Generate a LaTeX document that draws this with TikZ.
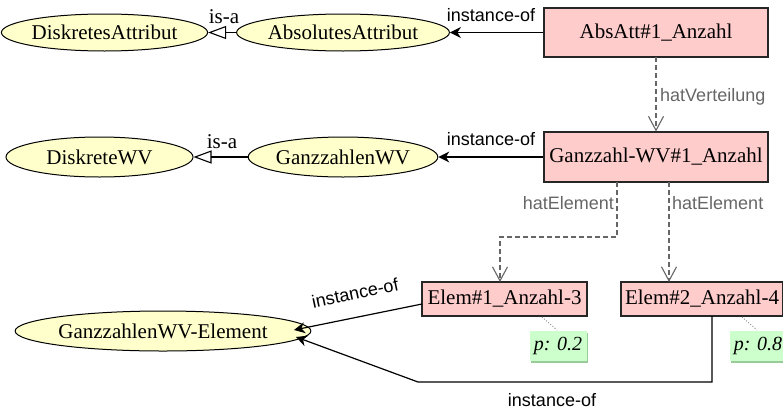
\documentclass[tikz,border=0pt]{standalone}
\usepackage{fontspec}
\setmainfont{Liberation Serif}
\setsansfont{Liberation Sans}
\usetikzlibrary{arrows.meta,shapes.geometric,shadows}
\definecolor{classfill}{HTML}{FFFFCC}
\definecolor{instfill}{HTML}{FFCCCC}
\definecolor{notefill}{HTML}{CCFFCC}
\definecolor{noteshade}{HTML}{99CC99}
\definecolor{relgray}{HTML}{666666}
\begin{document}
\begin{tikzpicture}[x=1pt,y=-1pt,
  cls/.style={ellipse,draw=black,fill=classfill,line width=1pt,inner sep=0pt,
    font=\fontsize{21}{24}\selectfont},
  inst/.style={rectangle,draw=black!85,fill=instfill,line width=1.1pt,inner sep=0pt,
    font=\fontsize{21}{24}\selectfont},
  note/.style={rectangle,fill=notefill,inner sep=0pt,minimum width=57,minimum height=30,
    font=\itshape\fontsize{20}{23}\selectfont,
    general shadow={fill=noteshade,shadow xshift=1.8pt,shadow yshift=-1.8pt}},
  lbl/.style={font=\sffamily\fontsize{18}{21}\selectfont,inner sep=1pt},
  glbl/.style={lbl,text=relgray},
  isalbl/.style={font=\fontsize{21}{24}\selectfont,inner sep=1pt},
  instof/.style={line width=1.2pt,-{Stealth[length=11pt,width=11pt,inset=3.5pt]}},
  isa/.style={line width=1.1pt,-{Triangle[open,length=18pt,width=13pt]}},
  rel/.style={draw=relgray,line width=1.1pt,dash pattern=on 5pt off 3pt,
    -{Straight Barb[length=14pt,width=15pt,line width=1.1pt]}},
  attach/.style={draw=relgray,line width=0.8pt,dotted}
]
\useasboundingbox (0,0) rectangle (783,410);

% class ellipses
\node[cls,minimum width=185,minimum height=37] (da) at (104.5,32.5) {DiskretesAttribut};
\node[cls,minimum width=186,minimum height=37] (aa) at (343,32.5) {AbsolutesAttribut};
\node[cls,minimum width=187,minimum height=40] (dwv) at (99.5,157) {DiskreteWV};
\node[cls,minimum width=186,minimum height=40] (gwv) at (343,157) {GanzzahlenWV};
\node[cls,minimum width=260,minimum height=40] (gwe) at (163,331) {GanzzahlenWV-Element};

% instances
\node[inst,minimum width=224,minimum height=49] (abs) at (656,32.5) {AbsAtt\#1\_Anzahl};
\node[inst,minimum width=224,minimum height=50] (gzv) at (656,157) {Ganzzahl-WV\#1\_Anzahl};
\node[inst,minimum width=165,minimum height=34] (e1) at (504.5,299) {Elem\#1\_Anzahl-3};
\node[inst,minimum width=162,minimum height=34] (e2) at (702,299) {Elem\#2\_Anzahl-4};

% probability notes
\node[note] (n1) at (558,346) {p: 0.2};
\node[note] (n2) at (758,346) {p: 0.8};
\coordinate (n1a) at (542,317);
\coordinate (n1b) at (557,330);
\coordinate (n2a) at (742,317);
\coordinate (n2b) at (757,330);
\draw[attach] (n1a) -- (n1b);
\draw[attach] (n2a) -- (n2b);

% generalisation
\draw[isa] (aa) -- (da);
\node[isalbl] (isa1) at (224,17) {is-a};
\draw[isa] (gwv) -- (dwv);
\node[isalbl] (isa2) at (222,142) {is-a};

% instance-of links
\draw[instof] (abs) -- (aa);
\node[lbl] (io1) at (491,15) {instance-of};
\draw[instof] (gzv) -- (gwv);
\node[lbl] (io2) at (491,139) {instance-of};

\coordinate (e1w) at (422,304);
\coordinate (gweA) at (294,330);
\draw[instof] (e1w) -- (gweA);
\node[lbl,rotate=12] (io3) at (355,293) {instance-of};

\coordinate (e2s) at (712,316);
\coordinate (e2c) at (712,382);
\coordinate (e2d) at (418,382);
\coordinate (gweB) at (296,337);
\draw[instof] (e2s) -- (e2c) -- (e2d) -- (gweB);
\node[lbl] (io4) at (552,400) {instance-of};

% distribution relations
\coordinate (ab) at (656,57);
\coordinate (gt) at (656,131.5);
\draw[rel] (ab) -- (gt);
\node[glbl,anchor=west] (hv) at (659,97) {hatVerteilung};

\coordinate (g1) at (617,182);
\coordinate (g1a) at (617,237);
\coordinate (g1b) at (500,237);
\coordinate (e1t) at (500,282);
\draw[rel] (g1) -- (g1a) -- (g1b) -- (e1t);
\node[glbl,anchor=east] (he1) at (615,203) {hatElement};

\coordinate (g2) at (669,182);
\coordinate (e2t) at (669,282);
\draw[rel] (g2) -- (e2t);
\node[glbl,anchor=west] (he2) at (671,203) {hatElement};
\end{tikzpicture}
\end{document}
